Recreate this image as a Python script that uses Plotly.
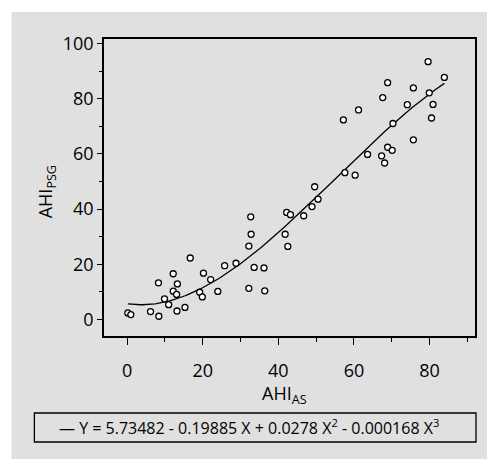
import numpy as np
import plotly.graph_objects as go

# Data (AHI_AS vs AHI_PSG)
ahi_as = [0.2, 1.0, 6.2, 8.4, 8.3, 9.9, 11.0, 12.2, 12.2, 13.3, 13.1, 13.2, 15.3, 16.7,
          19.2, 20.2, 19.9, 22.1, 24.0, 25.8, 28.8, 32.2, 32.7, 32.8, 33.6, 32.2, 36.2,
          36.4, 42.2, 41.8, 42.5, 43.2, 46.7, 48.9, 50.5, 49.6, 57.6, 60.3, 57.2, 61.2,
          63.6, 67.3, 67.6, 68.9, 68.1, 68.9, 70.1, 70.3, 74.1, 75.7, 75.7, 79.6, 79.9,
          80.9, 80.5, 83.9]
ahi_psg = [2.4, 1.8, 2.9, 1.2, 13.3, 7.5, 5.4, 16.6, 10.3, 12.9, 9.1, 3.1, 4.4, 22.3,
           9.9, 16.8, 8.2, 14.5, 10.2, 19.5, 20.4, 26.6, 37.2, 30.9, 18.9, 11.3, 18.7,
           10.4, 38.8, 30.9, 26.5, 38.0, 37.6, 40.9, 43.6, 48.1, 53.2, 52.3, 72.3, 75.9,
           59.8, 59.3, 80.4, 85.8, 56.7, 62.4, 61.3, 71.0, 77.8, 83.9, 65.1, 93.4, 82.1,
           77.9, 73.0, 87.7]

# Cubic regression coefficients stated in the legend
coef = [5.73482, -0.19885, 0.0278, -0.000168]
x_ticks = [0, 20, 40, 60, 80]
y_ticks = [0, 20, 40, 60, 80, 100]

xs = np.linspace(min(ahi_as), max(ahi_as), 200)
ys = coef[0] + coef[1] * xs + coef[2] * xs**2 + coef[3] * xs**3

FONT = "Open Sans"
fig = go.Figure()
fig.add_trace(go.Scatter(x=xs, y=ys, mode="lines",
                         line=dict(color="black", width=1.3), hoverinfo="skip"))
fig.add_trace(go.Scatter(x=ahi_as, y=ahi_psg, mode="markers",
                         marker=dict(symbol="circle", size=6, color="white",
                                     line=dict(color="black", width=1.3))))

W, H = 487, 459
L, R, T, B = 104, 10, 39, 123
pw, ph = W - L - R, H - T - B

def px(xp):
    return (xp - L) / pw

def py(yp):
    return (H - B - yp) / ph

axis_common = dict(showgrid=False, zeroline=False, showline=True, linecolor="black",
                   linewidth=1.5, mirror=True, ticks="outside", tickcolor="black",
                   tickfont=dict(family=FONT, size=18, color="black"))

fig.update_layout(
    width=W, height=H,
    margin=dict(l=L, r=R, t=T, b=B),
    paper_bgcolor="#e0e0e0", plot_bgcolor="#e0e0e0",
    showlegend=False,
    xaxis=dict(range=[-6.1, 92], tickvals=x_ticks, ticklen=7, tickwidth=1.3,
               ticklabelstandoff=11,
               minor=dict(dtick=10, tick0=0, ticklen=4, tickcolor="black", ticks="outside"),
               **axis_common),
    yaxis=dict(range=[-5.95, 101.6], tickvals=y_ticks, ticklen=5, tickwidth=1.3,
               minor=dict(dtick=10, tick0=0, ticklen=3, tickcolor="black", ticks="outside"),
               **axis_common),
    shapes=[
        # white outer margins (top and left)
        dict(type="rect", xref="paper", yref="paper", x0=px(0) - 0.01, x1=px(W) + 0.01,
             y0=py(12), y1=py(0) + 0.01, fillcolor="white", line=dict(width=0)),
        dict(type="rect", xref="paper", yref="paper", x0=px(0) - 0.01, x1=px(11),
             y0=py(H) - 0.01, y1=py(0) + 0.01, fillcolor="white", line=dict(width=0)),
        # legend box
        dict(type="rect", xref="paper", yref="paper", x0=px(34), x1=px(478),
             y0=py(442), y1=py(413), fillcolor="rgba(0,0,0,0)",
             line=dict(color="black", width=1.3)),
    ],
    annotations=[
        dict(text="AHI<sub>PSG</sub>", xref="paper", yref="paper", x=px(46), y=py(192),
             xanchor="center", yanchor="middle",
             textangle=-90, showarrow=False, font=dict(family=FONT, size=18, color="black")),
        dict(text="AHI<sub>AS</sub>", xref="paper", yref="paper", x=px(285), y=py(394),
             xanchor="center", yanchor="middle",
             showarrow=False, font=dict(family=FONT, size=18, color="black")),
        dict(text="\u2014 Y = 5.73482 - 0.19885 X + 0.0278 X<sup>2</sup> - 0.000168 X<sup>3</sup>",
             xref="paper", yref="paper", x=px(250), y=py(427.5),
             xanchor="center", yanchor="middle", showarrow=False,
             font=dict(family=FONT, size=16, color="black")),
    ],
)

fig.write_html("out.html", config={"displayModeBar": False},
               post_script="document.body.style.margin='0px';")
